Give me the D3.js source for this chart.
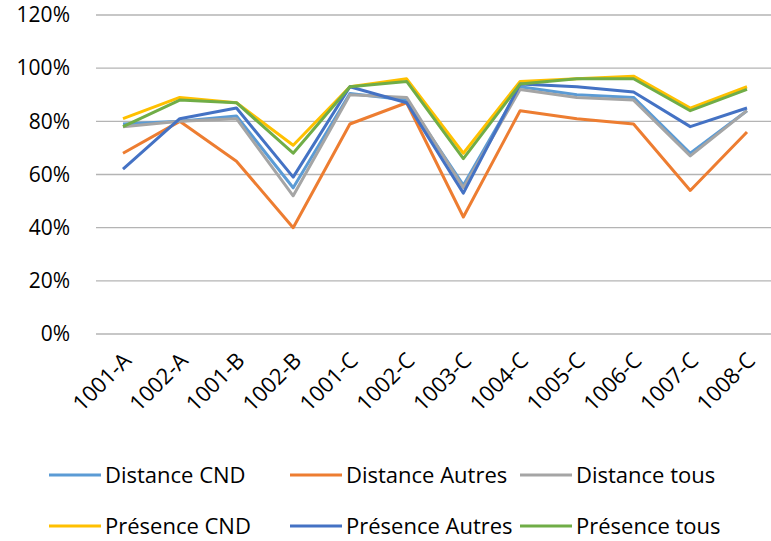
<!DOCTYPE html>
<html>
<head>
<meta charset="utf-8">
<script src="https://cdn.jsdelivr.net/npm/d3@7"></script>
<style>
  body { margin: 0; background: #fff; }
  text { font-family: "Open Sans", sans-serif; fill: #000; }
</style>
</head>
<body>
<div id="chart-area"></div>
<script>
// data (percent)
const categories = ["1001-A", "1002-A", "1001-B", "1002-B", "1001-C", "1002-C",
  "1003-C", "1004-C", "1005-C", "1006-C", "1007-C", "1008-C"]
const seriesNames = ["Distance CND", "Distance Autres", "Distance tous",
  "Présence CND", "Présence Autres", "Présence tous"]
const distanceCND = [79, 80, 82, 55, 90.5, 88, 56, 93, 90, 89, 68, 84]
const distanceAutres = [68, 80, 65, 40, 79, 87, 44, 84, 81, 79, 54, 76]
const distanceTous = [78, 80, 81, 52, 90, 89, 55, 92, 89, 88, 67, 84]
const presenceCND = [81, 89, 87, 71, 93, 96, 68, 95, 96, 97, 85, 93]
const presenceAutres = [62, 81, 85, 59, 93, 87, 53, 94, 93, 91, 78, 85]
const presenceTous = [78, 88, 87, 68, 93, 95, 66, 94, 96, 96, 84, 92]
const yTicks = [0, 20, 40, 60, 80, 100, 120]

const colors = ["#5B9BD5", "#ED7D31", "#A5A5A5", "#FFC000", "#4472C4", "#70AD47"]
const allValues = [distanceCND, distanceAutres, distanceTous, presenceCND, presenceAutres, presenceTous]
const series = seriesNames.map((name, i) => ({ name, color: colors[i], values: allValues[i] }))

const WIDTH = 771
const HEIGHT = 541

const svg = d3.select("#chart-area").append("svg")
  .attr("width", WIDTH)
  .attr("height", HEIGHT)

// scales
const x = d3.scalePoint().domain(categories).range([123, 747])
const y = d3.scaleLinear().domain([0, 120]).range([334, 15])

// gridlines
svg.append("g")
  .selectAll("line")
  .data(yTicks)
  .join("line")
  .attr("x1", 96)
  .attr("x2", WIDTH)
  .attr("y1", d => y(d))
  .attr("y2", d => y(d))
  .attr("stroke", "#b4b4b4")
  .attr("stroke-width", 1.3)

// y axis labels
const yAxisCall = d3.axisLeft(y)
  .tickValues(yTicks)
  .tickSize(0)
  .tickPadding(0)
  .tickFormat(d => d + "%")
const yAxis = svg.append("g")
  .attr("transform", "translate(70, 0)")
  .call(yAxisCall)
yAxis.select(".domain").remove()
yAxis.selectAll("text")
  .attr("font-size", 21)
  .attr("font-family", "Open Sans, sans-serif")
  .attr("fill", "#000")

// x axis labels, rotated
const xAxisCall = d3.axisBottom(x).tickSize(0).tickPadding(0)
const xAxis = svg.append("g")
  .attr("transform", "translate(0, 334)")
  .call(xAxisCall)
xAxis.select(".domain").remove()
xAxis.selectAll("text")
  .attr("font-size", 22)
  .attr("font-family", "Open Sans, sans-serif")
  .attr("fill", "#000")
  .attr("text-anchor", "end")
  .attr("dy", 0)
  .attr("transform", "translate(9, 28) rotate(-45)")

// lines
const line = d3.line()
  .x((d, i) => x(categories[i]))
  .y(d => y(d))

svg.append("g")
  .selectAll("path")
  .data(series)
  .join("path")
  .attr("d", d => line(d.values))
  .attr("fill", "none")
  .attr("stroke", d => d.color)
  .attr("stroke-width", 3)
  .attr("stroke-linejoin", "round")

// legend (3 columns x 2 rows)
const legendCols = [49, 290, 520]
const legendRows = [475, 526]
const legend = svg.append("g")
  .selectAll("g")
  .data(series)
  .join("g")
  .attr("transform", (d, i) => `translate(${legendCols[i % 3]}, ${legendRows[Math.floor(i / 3)]})`)

legend.append("line")
  .attr("x1", 0)
  .attr("x2", 52)
  .attr("stroke", d => d.color)
  .attr("stroke-width", 3)

legend.append("text")
  .attr("x", 56)
  .attr("dy", "0.35em")
  .attr("font-size", 22)
  .text(d => d.name)
</script>
</body>
</html>
